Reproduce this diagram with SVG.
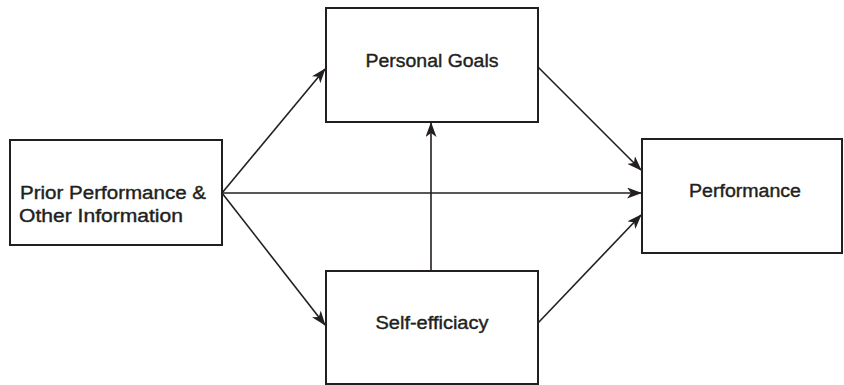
<svg xmlns="http://www.w3.org/2000/svg" width="844" height="385" viewBox="0 0 844 385">
<style>
.box{fill:#fff;stroke:#231f20;stroke-width:2}
.lbl{font-family:"Liberation Sans",Arial,sans-serif;font-size:18px;fill:#231f20;stroke:#231f20;stroke-width:0.4;text-anchor:middle}
.con{stroke:#231f20;stroke-width:1.6;fill:none;marker-end:url(#ah)}
</style>
<defs>
<marker id="ah" markerWidth="15" markerHeight="11" refX="14" refY="5.5" orient="auto" markerUnits="userSpaceOnUse">
<path d="M0,0 L15,5.5 L0,11 L4,5.5 Z" fill="#231f20"/>
</marker>
</defs>
<rect width="844" height="385" fill="#fff"/>
<g id="connectors">
<line class="con" x1="222" y1="193" x2="325" y2="69"/>
<line class="con" x1="222" y1="193" x2="641" y2="193"/>
<line class="con" x1="222" y1="193" x2="325" y2="325"/>
<line class="con" x1="538" y1="67" x2="641" y2="170"/>
<line class="con" x1="538" y1="323" x2="641" y2="215"/>
<line class="con" x1="431" y1="271" x2="431" y2="123"/>
</g>
<g id="prior">
<rect class="box" x="10" y="140" width="212" height="105"/>
<text class="lbl" x="113" y="199" textLength="186" lengthAdjust="spacingAndGlyphs">Prior Performance &amp;</text>
<text class="lbl" x="101" y="222" textLength="164" lengthAdjust="spacingAndGlyphs">Other Information</text>
</g>
<g id="goals">
<rect class="box" x="326" y="8" width="212" height="114"/>
<text class="lbl" x="432" y="67" textLength="133" lengthAdjust="spacingAndGlyphs">Personal Goals</text>
</g>
<g id="efficacy">
<rect class="box" x="326" y="271" width="212" height="113"/>
<text class="lbl" x="432" y="329" textLength="113" lengthAdjust="spacingAndGlyphs">Self-efficiacy</text>
</g>
<g id="performance">
<rect class="box" x="642" y="139" width="200" height="114"/>
<text class="lbl" x="745" y="197" textLength="112" lengthAdjust="spacingAndGlyphs">Performance</text>
</g>
</svg>
